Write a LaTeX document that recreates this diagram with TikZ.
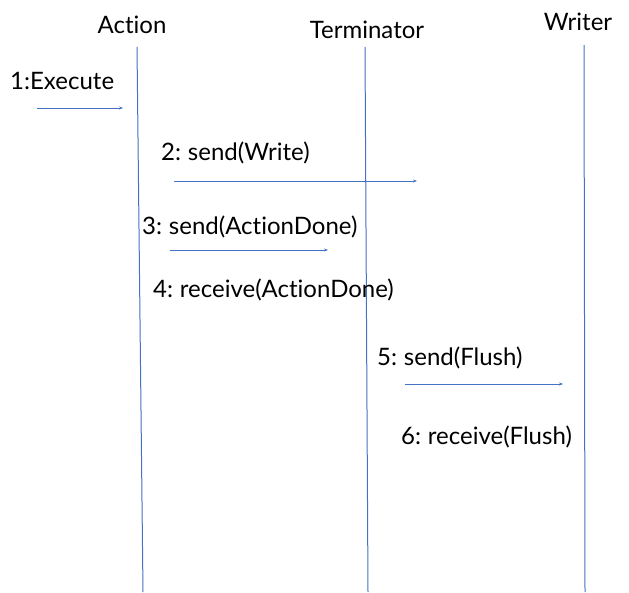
\documentclass[tikz,border=0pt]{standalone}
\usepackage{fontspec}
\setmainfont{Lato}[Ligatures={NoCommon,NoDiscretionary,NoRare}]
\usetikzlibrary{arrows.meta}
\definecolor{lifeblue}{HTML}{4472C4}
\newcommand\msgfont{\fontsize{24}{28}\selectfont\spaceskip=0.2em\relax}
\tikzset{
  lifeline/.style={draw=lifeblue, line width=1pt},
  msgarrow/.style={draw=lifeblue, line width=0.9pt, -{Stealth[length=4pt,width=3pt]}},
  head/.style={font=\fontsize{24}{28}\selectfont, inner sep=0pt},
  msglabel/.style={font=\msgfont, inner sep=0pt, anchor=west}
}
\begin{document}
\begin{tikzpicture}[x=1pt, y=-1pt]
  \useasboundingbox (0,0) rectangle (629,592);

  % participants
  \node[head] (action) at (132,25) {Action};
  \node[head] (term) at (367,30) {Terminator};
  \node[head] (writer) at (578,22) {Writer};

  % lifelines
  \coordinate (actTop) at (137,47);
  \coordinate (actBot) at (143,592);
  \coordinate (termTop) at (365,47);
  \coordinate (termBot) at (368,592);
  \coordinate (wrTop) at (584,45);
  \coordinate (wrBot) at (585,592);
  \draw[lifeline] (actTop) -- (actBot);
  \draw[lifeline] (termTop) -- (termBot);
  \draw[lifeline] (wrTop) -- (wrBot);

  % messages
  \node[msglabel] (m1) at (10,81) {1:Execute};
  \coordinate (m1s) at (37,108);
  \coordinate (m1e) at (123,108);
  \draw[msgarrow] (m1s) -- (m1e);

  \node[msglabel] (m2) at (161,153) {2: send(Write)};
  \coordinate (m2s) at (174,181);
  \coordinate (m2e) at (417,181);
  \draw[msgarrow] (m2s) -- (m2e);

  \node[msglabel] (m3) at (142,227) {3: send(ActionDone)};
  \coordinate (m3s) at (170,250);
  \coordinate (m3e) at (328,250);
  \draw[msgarrow] (m3s) -- (m3e);

  \node[msglabel] (m4) at (153,290) {4: receive(ActionDone)};

  \node[msglabel] (m5) at (377,358) {5: send(Flush)};
  \coordinate (m5s) at (405,384);
  \coordinate (m5e) at (563,384);
  \draw[msgarrow] (m5s) -- (m5e);

  \node[msglabel] (m6) at (401,437) {6: receive(Flush)};
\end{tikzpicture}
\end{document}
